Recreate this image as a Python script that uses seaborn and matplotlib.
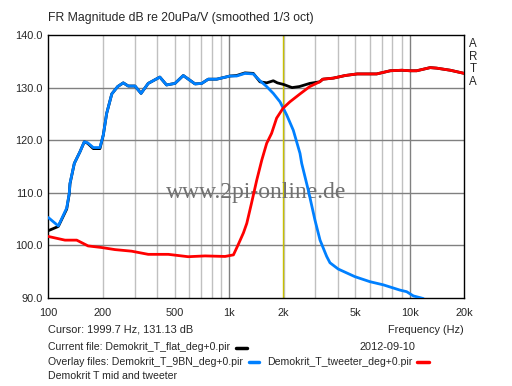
import pandas as pd
import matplotlib.pyplot as plt
import seaborn as sns

# Demokrit_T_9BN_deg+0.pir (mid, blue overlay)
mid_freq = [100, 113.6, 126.4, 130.6, 131.8, 139.3, 149.7, 158.2, 165.1, 177.4,
            193, 201.5, 210.3, 224.5, 242, 259.8, 276.8, 301.6, 325.9, 357,
            414, 451, 502, 558, 648, 706, 767, 854, 1012, 1101,
            1224, 1361, 1482, 1614, 1756, 1912, 2083, 2265, 2467, 2521,
            2742, 2986, 3185, 3466, 3614, 4017, 4970, 6015, 7130, 8815,
            9600, 10450, 11860]
mid_db = [105.3, 103.7, 107.1, 109.9, 111.8, 115.6, 117.8, 119.7, 119.5, 118.6,
          118.6, 121.0, 125.1, 128.8, 130.2, 130.9, 130.3, 130.3, 128.9, 130.8,
          132.0, 130.5, 130.8, 132.3, 130.7, 130.8, 131.6, 131.6, 132.2, 132.2,
          132.7, 132.6, 131.3, 130.2, 128.9, 127.3, 124.8, 121.9, 117.5, 115.6,
          110.5, 104.8, 101.0, 97.9, 96.7, 95.5, 94.05, 93.1, 92.5, 91.5,
          91.2, 90.4, 89.9]

# Demokrit_T_flat_deg+0.pir (current file, black)
flat_freq = [100, 113.6, 126.4, 130.6, 131.8, 139.3, 149.7, 158.2, 165.1, 177.4,
             193, 201.5, 210.3, 224.5, 242, 259.8, 276.8, 301.6, 325.9, 357,
             414, 451, 502, 558, 648, 706, 767, 854, 1012, 1101,
             1224, 1361, 1482, 1614, 1756, 1850, 2000, 2230, 2450, 2795,
             3170, 3300, 3770, 4390, 5110, 6550, 7790, 9020, 10030, 10900,
             12950, 14060, 16730, 20000]
flat_db = [102.8, 103.6, 106.9, 109.8, 111.7, 115.6, 117.8, 119.7, 119.4, 118.4,
           118.4, 121.0, 125.1, 128.8, 130.2, 130.9, 130.3, 130.3, 128.9, 130.8,
           132.0, 130.5, 130.8, 132.3, 130.7, 130.8, 131.6, 131.6, 132.2, 132.3,
           132.8, 132.7, 131.1, 130.9, 131.3, 130.9, 130.6, 130.0, 130.2, 130.8,
           131.1, 131.6, 131.8, 132.3, 132.6, 132.6, 133.2, 133.3, 133.2, 133.2,
           133.8, 133.7, 133.3, 132.7]

# Demokrit_T_tweeter_deg+0.pir (red overlay)
tw_freq = [100, 123.7, 143.6, 166, 197, 233.9, 289, 357, 461, 594,
           736, 950, 1057, 1125, 1201, 1253, 1330, 1422, 1516, 1614,
           1718, 1832, 1990, 2170, 2468, 2795, 3170, 3300, 3770, 4390,
           5110, 6550, 7790, 9020, 10030, 10900, 12950, 14060, 16730, 20000]
tw_db = [101.7, 101.0, 101.0, 99.9, 99.6, 99.2, 98.9, 98.3, 98.3, 97.85,
         98.0, 97.9, 98.2, 100.2, 102.4, 104.2, 108.0, 112.4, 116.2, 119.4,
         121.3, 124.2, 126.1, 127.3, 128.8, 130.2, 131.1, 131.6, 131.8, 132.3,
         132.6, 132.6, 133.2, 133.3, 133.2, 133.2, 133.8, 133.7, 133.3, 132.7]

x_ticks = [100, 200, 500, 1000, 2000, 5000, 10000, 20000]
x_labels = ["100", "200", "500", "1k", "2k", "5k", "10k", "20k"]
y_ticks = [90, 100, 110, 120, 130, 140]

sns.set_style("white")
plt.rcParams['font.family'] = ['Liberation Sans', 'DejaVu Sans']
fs = 7.9
fs_small = 7.6

fig = plt.figure(figsize=(5.12, 3.86), dpi=100)
ax = fig.add_axes([48.3 / 512, 1 - 298 / 386, 416 / 512, 263 / 386])
ax.set_xscale('log')
ax.set_xlim(100, 20000)
ax.set_ylim(90, 140)

# grid
for f in [200, 300, 400, 500, 600, 700, 800, 900,
          2000, 3000, 4000, 5000, 6000, 7000, 8000, 9000]:
    ax.axvline(f, color='#c0c0c0', lw=1, zorder=1)
for f in [1000, 10000]:
    ax.axvline(f, color='#808080', lw=1, zorder=1)
for y in [100, 110, 120, 130]:
    ax.axhline(y, color='#808080', lw=1, zorder=1)
ax.axvline(1999.7, color='#c8c000', lw=1, zorder=2)

ax.text(0.5, 0.4, "www.2pi-online.de", transform=ax.transAxes, ha='center', va='center',
        family='Liberation Serif', fontsize=17, color='#707070', zorder=2)

sns.lineplot(x=flat_freq, y=flat_db, color='black', lw=2, ax=ax, zorder=3)
sns.lineplot(x=mid_freq, y=mid_db, color='#0080ff', lw=2, ax=ax, zorder=4)
sns.lineplot(x=tw_freq, y=tw_db, color='#ff0000', lw=2, ax=ax, zorder=5)

ax.set_xticks(x_ticks)
ax.set_xticklabels(x_labels, fontsize=fs)
ax.xaxis.set_minor_locator(plt.NullLocator())
ax.set_yticks(y_ticks)
ax.set_yticklabels([f"{v:.1f}" for v in y_ticks], fontsize=fs)
ax.tick_params(length=0, pad=4)
ax.tick_params(axis='x', pad=7.5)
ax.set_xlabel("")
ax.set_ylabel("")
for s in ax.spines.values():
    s.set_color('black')
    s.set_linewidth(1)

def px(x, y):
    return x / 512, 1 - y / 386

fig.text(*px(48, 18), "FR Magnitude dB re 20uPa/V (smoothed 1/3 oct)", fontsize=8.8, va='center')
fig.text(*px(473, 63), "A\nR\nT\nA", fontsize=8.3, ha='center', va='center', linespacing=1.05)
fig.text(*px(48, 330), "Cursor: 1999.7 Hz, 131.13 dB", fontsize=fs, va='center')
fig.text(*px(464, 330), "Frequency (Hz)", fontsize=fs, va='center', ha='right')
fig.text(*px(48, 347), "Current file: Demokrit_T_flat_deg+0.pir", fontsize=fs_small, va='center')
fig.text(*px(388, 347), "2012-09-10", fontsize=fs, va='center', ha='center')
fig.text(*px(48, 362), "Overlay files: Demokrit_T_9BN_deg+0.pir", fontsize=fs_small, va='center')
fig.text(*px(267, 362), "Demokrit_T_tweeter_deg+0.pir", fontsize=fs_small, va='center')
fig.text(*px(48, 376), "Demokrit T mid and tweeter", fontsize=fs_small, va='center')
for x0, x1, y, c in [(236, 247, 347.5, 'black'), (249, 259, 362, '#0080ff'), (417, 429, 362, '#ff0000')]:
    fig.add_artist(plt.Line2D([x0 / 512, x1 / 512], [1 - y / 386] * 2, color=c, lw=2.5))

plt.savefig('out.png', dpi=100)
